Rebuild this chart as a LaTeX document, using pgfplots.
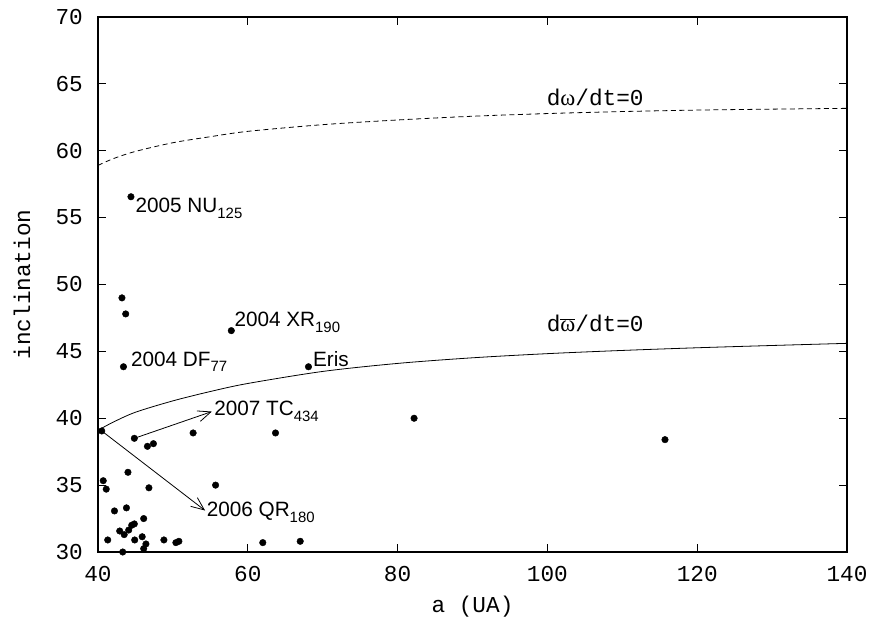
\documentclass[border=0pt]{standalone}
\usepackage{fontspec}
\setmainfont{Liberation Sans}
\setmonofont{Liberation Mono}
\newfontfamily\symf{Liberation Serif}
\usepackage{pgfplots}
\pgfplotsset{compat=1.18}
\usetikzlibrary{arrows.meta}
\newcommand\sub[1]{\raisebox{-0.28em}{\fontsize{15}{17}\selectfont #1}}
\newcommand\monofont{\fontsize{22.8}{26}\selectfont\ttfamily}
\begin{document}
\begin{tikzpicture}
\begin{axis}[
  name=ax,
  scale only axis, width=749bp, height=535bp,
  xmin=40, xmax=140, ymin=30, ymax=70,
  xtick={40,60,...,140}, ytick={30,35,...,70},
  tick align=inside, major tick length=8bp,
  axis line style={line width=1.1pt},
  every tick/.style={black, line width=0.9pt},
  /pgf/number format/assume math mode=true,
  ticklabel style={font=\monofont, inner sep=0pt},
  xticklabel style={anchor=north, yshift=-14bp},
  yticklabel style={anchor=east, xshift=-15bp},
  xlabel={a (UA)}, ylabel={inclination},
  every axis x label/.style={at={(axis description cs:0.5,0)}, yshift=-55bp, anchor=center, inner sep=0pt, font=\monofont},
  every axis y label/.style={at={(axis description cs:0,0.5)}, xshift=-76bp, rotate=90, anchor=center, inner sep=0pt, font=\monofont},
]
% d omega/dt = 0 (dashed)
\addplot[black, line width=0.8pt, smooth, dash pattern=on 5bp off 3.5bp] coordinates {
(40,58.9) (42,59.4) (45,59.95) (50,60.6) (55,61.05) (60,61.45) (70,61.95) (80,62.3) (90,62.58) (100,62.78) (110,62.93) (120,63.04) (130,63.11) (140,63.17)
};
% d varpi/dt = 0 (solid)
\addplot[black, line width=0.8pt, smooth] coordinates {
(40,39.1) (42,39.7) (45,40.45) (50,41.3) (55,42.0) (60,42.6) (70,43.5) (80,44.1) (90,44.52) (100,44.83) (110,45.07) (120,45.27) (130,45.44) (140,45.6)
};
\addplot[only marks, mark=*, mark size=3.3pt, black] table {
x y
44.4 56.56
43.2 49.0
43.7 47.8
57.8 46.55
43.4 43.85
68.1 43.85
82.2 40.0
115.7 38.4
40.5 39.05
44.85 38.5
46.6 37.9
47.4 38.1
52.7 38.9
63.7 38.9
44.0 35.96
40.7 35.33
41.1 34.7
46.8 34.8
55.7 35.0
42.2 33.07
43.8 33.3
46.1 32.5
44.5 32.0
44.85 32.1
44.1 31.64
42.9 31.57
43.5 31.3
45.9 31.14
41.3 30.9
44.9 30.9
48.8 30.9
50.4 30.7
50.8 30.8
43.3 30.0
46.1 30.25
46.4 30.6
62.0 30.7
67.0 30.8
};
\draw[black, line width=0.8pt, -{Straight Barb[length=13bp,width=11bp]}] (axis cs:44.85,38.5) -- (axis cs:55.2,40.5);
\draw[black, line width=0.8pt, -{Straight Barb[length=13bp,width=11bp]}] (axis cs:40.5,39.05) -- (axis cs:54.3,33.1);
\begin{scope}[every node/.style={anchor=base west, inner sep=0pt, font=\fontsize{20.8}{24}\selectfont}]
\node at (axis cs:45.0,55.4) {2005 NU\sub{125}};
\node at (axis cs:58.2,46.85) {2004 XR\sub{190}};
\node at (axis cs:44.4,43.9) {2004 DF\sub{77}};
\node at (axis cs:68.7,43.9) {Eris};
\node at (axis cs:55.5,40.17) {2007 TC\sub{434}};
\node at (axis cs:54.5,32.64) {2006 QR\sub{180}};
\end{scope}
\begin{scope}[every node/.style={anchor=base west, inner sep=0pt, font=\monofont}]
\node at (axis cs:99.9,63.42) {d{\symf ω}/dt=0};
\node at (axis cs:99.9,46.5) {d\ensuremath{\overline{\hbox{\symf ω}}}/dt=0};
\end{scope}
\end{axis}
\pgfresetboundingbox
\path[use as bounding box] ([xshift=-98bp,yshift=-75bp]ax.south west) rectangle ([xshift=29bp,yshift=17bp]ax.north east);
\end{tikzpicture}
\end{document}
